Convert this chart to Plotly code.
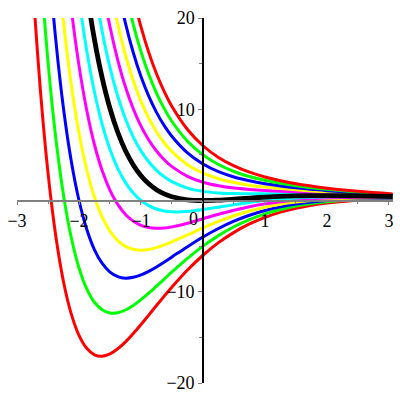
import plotly.graph_objects as go

# sample x positions
x_vals = [-3, -2.75, -2.625, -2.5, -2.375, -2.25, -2.125, -2, -1.875, -1.75, -1.625, -1.5,
          -1.375, -1.25, -1.125, -1, -0.875, -0.75, -0.625, -0.5, -0.25, 0, 0.25, 0.5,
          0.75, 1, 1.25, 1.5, 1.75, 2, 2.5, 3.06]

# curve values (None = far above the view)
y_m6 = [60.26, 24.44, 12.30, 3.05, -3.87, -8.90, -12.43, -14.78, -16.20, -16.91, -17.06, -16.81,
        -16.25, -15.49, -14.58, -13.59, -12.56, -11.51, -10.48, -9.48, -7.62, -6, -4.62, -3.49,
        -2.57, -1.84, -1.27, -0.84, -0.51, -0.27, 0.02, 0.16]
y_m5 = [80.34, 40.09, 26.10, 15.23, 6.89, 0.59, -4.06, -7.39, -9.68, -11.15, -11.98, -12.33,
        -12.30, -12.00, -11.50, -10.87, -10.16, -9.39, -8.61, -7.83, -6.34, -5, -3.85, -2.88,
        -2.10, -1.47, -0.98, -0.61, -0.34, -0.14, 0.10, 0.21]
y_m4 = [None, 55.73, 39.91, 27.41, 17.64, 10.08, 4.32, 0.00, -3.15, -5.40, -6.90, -7.85,
        -8.34, -8.51, -8.42, -8.15, -7.76, -7.28, -6.74, -6.18, -5.06, -4, -3.07, -2.27,
        -1.62, -1.10, -0.70, -0.39, -0.16, 0.00, 0.18, 0.25]
y_m3 = [None, None, 53.71, 39.59, 28.39, 19.57, 12.69, 7.39, 3.37, 0.36, -1.82, -3.36,
        -4.39, -5.02, -5.34, -5.44, -5.36, -5.16, -4.87, -4.53, -3.77, -3, -2.29, -1.67,
        -1.15, -0.74, -0.41, -0.17, 0.01, 0.14, 0.27, 0.30]
y_m2 = [None, None, None, 51.78, 39.14, 29.06, 21.06, 14.78, 9.89, 6.11, 3.25, 1.12,
        -0.43, -1.53, -2.26, -2.72, -2.96, -3.04, -3.01, -2.89, -2.49, -2, -1.51, -1.06,
        -0.68, -0.37, -0.13, 0.06, 0.18, 0.27, 0.35, 0.35]
y_m1 = [None, None, None, None, 49.89, 38.54, 29.44, 22.17, 16.41, 11.87, 8.33, 5.60,
        3.52, 1.96, 0.82, 0.00, -0.56, -0.93, -1.14, -1.24, -1.20, -1, -0.73, -0.45,
        -0.21, 0.00, 0.16, 0.28, 0.36, 0.41, 0.43, 0.39]
y_0 = [None, None, None, None, None, 48.03, 37.81, 29.56, 22.93, 17.62, 13.41, 10.08,
       7.48, 5.45, 3.90, 2.72, 1.84, 1.19, 0.73, 0.41, 0.08, 0, 0.05, 0.15,
       0.27, 0.37, 0.45, 0.50, 0.53, 0.54, 0.51, 0.44]
y_p1 = [None, None, None, None, None, None, 46.18, 36.95, 29.45, 23.37, 18.49, 14.56,
        11.43, 8.94, 6.98, 5.44, 4.24, 3.31, 2.60, 2.06, 1.36, 1, 0.83, 0.76,
        0.74, 0.74, 0.73, 0.73, 0.71, 0.68, 0.60, 0.49]
y_p2 = [None, None, None, None, None, None, None, 44.33, 35.97, 29.13, 23.57, 19.04,
        15.39, 12.43, 10.06, 8.15, 6.63, 5.43, 4.47, 3.71, 2.65, 2, 1.61, 1.36,
        1.21, 1.10, 1.02, 0.95, 0.88, 0.81, 0.68, 0.53]
y_p3 = [None, None, None, None, None, None, None, None, 42.49, 34.88, 28.64, 23.53,
        19.34, 15.92, 13.14, 10.87, 9.03, 7.54, 6.33, 5.36, 3.93, 3, 2.39, 1.97,
        1.68, 1.47, 1.31, 1.17, 1.05, 0.95, 0.76, 0.58]
y_p4 = [None, None, None, None, None, None, None, None, 49.01, 40.64, 33.72, 28.01,
        23.30, 19.42, 16.22, 13.59, 11.43, 9.66, 8.20, 7.01, 5.22, 4, 3.16, 2.58,
        2.16, 1.84, 1.59, 1.39, 1.23, 1.08, 0.84, 0.63]
y_p5 = [None, None, None, None, None, None, None, None, None, None, 38.80, 32.49,
        27.25, 22.91, 19.30, 16.31, 13.83, 11.78, 10.07, 8.66, 6.50, 5, 3.94, 3.18,
        2.63, 2.21, 1.88, 1.62, 1.40, 1.22, 0.92, 0.67]
y_p6 = [None, None, None, None, None, None, None, None, None, None, 43.88, 36.97,
        31.21, 26.40, 22.38, 19.03, 16.23, 13.89, 11.94, 10.30, 7.78, 6, 4.72, 3.79,
        3.10, 2.58, 2.17, 1.84, 1.58, 1.35, 1.01, 0.72]

curves = [y_m6, y_m5, y_m4, y_m3, y_m2, y_m1, y_p1, y_p2, y_p3, y_p4, y_p5, y_p6, y_0]
colors = ["#FF0000", "#00FF00", "#0000FF", "#FFFF00", "#FF00FF", "#00FFFF",
          "#00FFFF", "#FF00FF", "#FFFF00", "#0000FF", "#00FF00", "#FF0000", "#000000"]
widths = [3] * 12 + [4.8]

x_tick_vals = [-3, -2, -1, 1, 2, 3]
x_tick_text = ["\u22123", "\u22122", "\u22121", "1", "2", "3"]
y_tick_vals = [-20, -10, 10, 20]
y_tick_text = ["\u221220", "\u221210", "10", "20"]

x_range = [-3, 3.065]
y_range = [-20, 20]

fig = go.Figure()
for ys, col, w in zip(curves, colors, widths):
    fig.add_trace(go.Scatter(x=x_vals, y=ys, mode="lines",
                             line=dict(color=col, width=w, shape="spline", smoothing=1.0),
                             hoverinfo="skip", showlegend=False))

font = dict(family="'Liberation Serif', 'Times New Roman', 'DejaVu Serif', serif",
            size=18, color="black")

fig.update_layout(
    width=400, height=400,
    margin=dict(l=17, r=7, t=18, b=17, autoexpand=False),
    paper_bgcolor="white", plot_bgcolor="white",
    showlegend=False,
    xaxis=dict(range=x_range, anchor="free", position=0.5, automargin=False,
               showgrid=False, zeroline=False,
               showline=True, linecolor="#808080", linewidth=1.5,
               ticks="outside", ticklen=4, tickcolor="#808080", tickwidth=1,
               tickvals=x_tick_vals, ticktext=x_tick_text, tickfont=font,
               minor=dict(dtick=0.5, tick0=0, ticklen=3, tickcolor="#808080", ticks="outside"),
               fixedrange=True),
    yaxis=dict(range=y_range, anchor="free", automargin=False,
               position=(0 - x_range[0]) / (x_range[1] - x_range[0]),
               showgrid=False, zeroline=False,
               showline=True, linecolor="black", linewidth=1.5,
               ticks="outside", ticklen=4, tickcolor="#808080", tickwidth=1,
               tickvals=y_tick_vals, ticktext=y_tick_text, tickfont=font,
               minor=dict(dtick=5, tick0=0, ticklen=3, tickcolor="#808080", ticks="outside"),
               fixedrange=True),
)

fig.add_annotation(x=-0.16, y=0, xref="x", yref="y", text="0", showarrow=False,
                   yanchor="top", yshift=-6, font=font)

fig.write_html("out.html", config={"displayModeBar": False},
               post_script="document.body.style.margin='0';document.body.style.padding='0';")
